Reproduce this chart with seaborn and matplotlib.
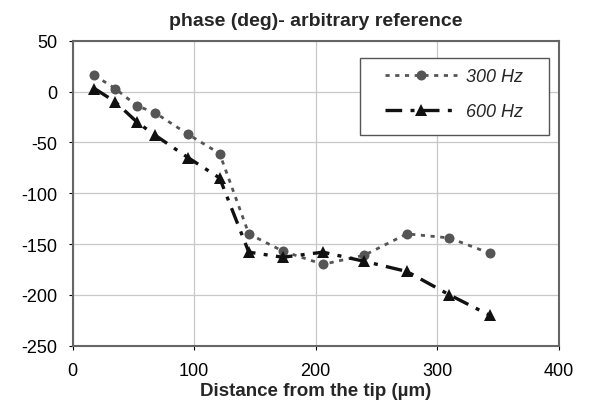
import matplotlib
matplotlib.use("Agg")
import matplotlib.pyplot as plt
from matplotlib.patches import Rectangle
import seaborn as sns
import pandas as pd

distance = [18, 35, 53, 68, 95, 121, 145, 173, 206, 240, 275, 310, 343]
phase_300 = [16, 3, -14, -21, -42, -61, -140, -157, -170, -161, -140, -144, -159]
phase_600 = [3, -10, -30, -43, -65, -85, -158, -163, -158, -167, -177, -200, -220]
series_names = ["300 Hz", "600 Hz"]
x_ticks = [0, 100, 200, 300, 400]
y_ticks = [50, 0, -50, -100, -150, -200, -250]

sns.set_theme(style="white")
plt.rcParams["font.family"] = ["Liberation Sans", "DejaVu Sans"]
plt.rcParams["axes.unicode_minus"] = False

df300 = pd.DataFrame({"d": distance, "p": phase_300})
df600 = pd.DataFrame({"d": distance, "p": phase_600})

fig = plt.figure(figsize=(5.92, 4.14), dpi=100)
ax = fig.add_axes([0.1225, 0.1626, 0.8215, 0.7366])

sns.lineplot(data=df300, x="d", y="p", ax=ax, color="#555555", marker="o",
             markersize=7.2, markeredgewidth=0, linewidth=2.0,
             linestyle=(0, (1.5, 2.0)), label=series_names[0], zorder=3)
sns.lineplot(data=df600, x="d", y="p", ax=ax, color="#111111", marker="^",
             markersize=8, markeredgewidth=0, linewidth=2.4,
             linestyle=(0, (5, 2.5, 1.2, 2.5)), label=series_names[1], zorder=4)

ax.set_xlim(0, 400)
ax.set_ylim(-250, 50)
ax.set_xticks(x_ticks)
ax.set_yticks(y_ticks)
ax.tick_params(axis="y", labelsize=13, colors="black", length=3, width=0.8,
               direction="out", left=True, pad=8)
ax.tick_params(axis="x", labelsize=13, colors="black", length=3, width=0.8,
               direction="out", bottom=True, pad=9)
ax.grid(True, color="#c8c8c8", linewidth=0.9)
ax.set_axisbelow(True)
for side in ["left", "bottom", "top", "right"]:
    ax.spines[side].set_visible(True)
    ax.spines[side].set_color("#666666")
    ax.spines[side].set_linewidth(1.5)

ax.set_title("phase (deg)- arbitrary reference", fontsize=14, fontweight="bold", pad=11)
ax.set_xlabel("Distance from the tip (µm)", fontsize=13.5, fontweight="bold", labelpad=2)
ax.set_ylabel("")

# legend frame
ax.add_patch(Rectangle((0.591, 0.690), 0.388, 0.253, transform=ax.transAxes,
                       facecolor="white", edgecolor="#555555", linewidth=1.0,
                       zorder=5))
leg = ax.legend(loc="center", bbox_to_anchor=(0.785, 0.824), frameon=False,
                prop={"style": "italic", "size": 13}, handlelength=4.0,
                borderpad=0.3, labelspacing=1.0, handletextpad=0.5)
leg.set_zorder(6)

fig.savefig("out.png", dpi=100)
